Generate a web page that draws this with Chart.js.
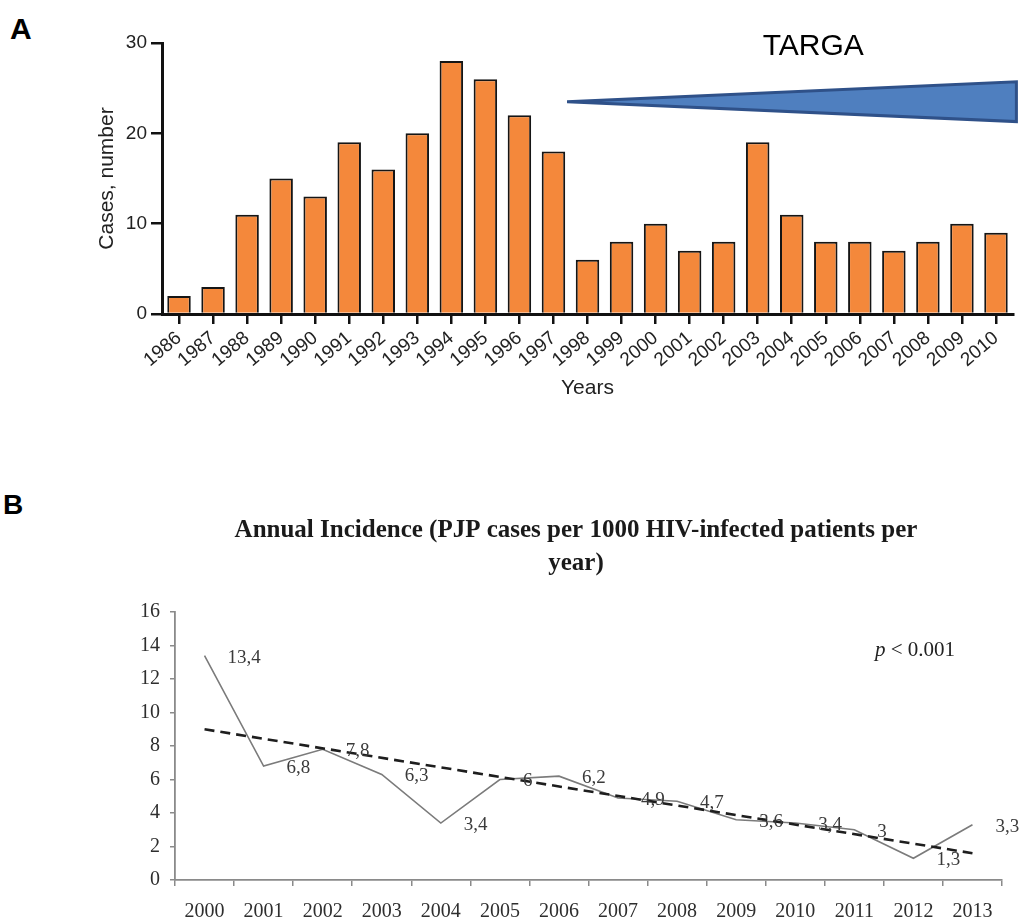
<!DOCTYPE html>
<html>
<head>
<meta charset="utf-8">
<title>PJP cases and incidence</title>
<script src="https://cdn.jsdelivr.net/npm/chart.js@4.4.1/dist/chart.umd.min.js"></script>
<style>
  html, body { margin: 0; padding: 0; background: #fff; }
  body { position: relative; width: 1019px; height: 920px; overflow: hidden; }
  .panel-letter { position: absolute; font-family: 'Liberation Sans', Arial, sans-serif; font-weight: bold; color: #000; line-height: 1; }
  #letterA { left: 10px; top: 14px; font-size: 30px; }
  #letterB { left: 3px; top: 491px; font-size: 28px; }
  #boxA { position: absolute; left: 0; top: 0; width: 1019px; height: 410px; }
  #boxB { position: absolute; left: 0; top: 480px; width: 1019px; height: 440px; }
  canvas { display: block; }
</style>
</head>
<body>
<div class="panel-letter" id="letterA">A</div>
<div class="panel-letter" id="letterB">B</div>
<div id="boxA"><canvas id="chartA" width="1019" height="410"></canvas></div>
<div id="boxB"><canvas id="chartB" width="1019" height="440"></canvas></div>

<script>
// ---- Panel A: PJP cases per year ----
const yearsA = ['1986', '1987', '1988', '1989', '1990', '1991', '1992', '1993', '1994', '1995',
                '1996', '1997', '1998', '1999', '2000', '2001', '2002', '2003', '2004', '2005',
                '2006', '2007', '2008', '2009', '2010'];
const casesA = [2, 3, 11, 15, 13, 19, 16, 20, 28, 26,
                22, 18, 6, 8, 10, 7, 8, 19, 11, 8,
                8, 7, 8, 10, 9];
const yTicksA = [0, 10, 20, 30];
const targaLabel = 'TARGA';

// ---- Panel B: annual incidence per 1000 HIV-infected patients ----
const yearsB = ['2000', '2001', '2002', '2003', '2004', '2005', '2006',
                '2007', '2008', '2009', '2010', '2011', '2012', '2013'];
const incidenceB = [13.4, 6.8, 7.8, 6.3, 3.4, 6, 6.2, 4.9, 4.7, 3.6, 3.4, 3, 1.3, 3.3];
const trendB = [9.0, 1.6];          // linear trend at first and last year
const yTicksB = [0, 2, 4, 6, 8, 10, 12, 14, 16];
const titleB = ['Annual Incidence (PJP cases per 1000 HIV-infected patients per', 'year)'];
const pValueText = ['p', ' < 0.001'];

const SANS = "'Liberation Sans', Arial, Helvetica, sans-serif";
const SERIF = "'Liberation Serif', 'Times New Roman', serif";

// Wedge marking the spread of combination antiretroviral therapy, placed in data units
const targaWedge = {
  id: 'targaWedge',
  afterDraw(chart, args, opts) {
    const { ctx, scales: { x, y } } = chart;
    const tipX = x.getPixelForValue(opts.tip[0]);
    const tipY = y.getPixelForValue(opts.tip[1]);
    const endX = x.getPixelForValue(opts.end);
    const topY = y.getPixelForValue(opts.top);
    const botY = y.getPixelForValue(opts.bottom);
    ctx.save();
    ctx.beginPath();
    ctx.moveTo(tipX, tipY);
    ctx.lineTo(endX, topY);
    ctx.lineTo(endX, botY);
    ctx.closePath();
    ctx.fillStyle = '#4f7fbf';
    ctx.fill();
    ctx.lineWidth = 3;
    ctx.lineJoin = 'miter';
    ctx.strokeStyle = '#2f5189';
    ctx.stroke();
    ctx.fillStyle = '#000';
    ctx.font = '30px ' + SANS;
    ctx.textAlign = 'center';
    ctx.textBaseline = 'middle';
    ctx.fillText(targaLabel, x.getPixelForValue(opts.label[0]), y.getPixelForValue(opts.label[1]));
    ctx.restore();
  }
};

new Chart(document.getElementById('chartA'), {
  type: 'bar',
  data: {
    labels: yearsA,
    datasets: [{
      data: casesA,
      backgroundColor: '#f4883b',
      borderColor: '#151515',
      borderWidth: 2,
      barPercentage: 0.69,
      categoryPercentage: 1.0
    }]
  },
  options: {
    responsive: false,
    devicePixelRatio: 1,
    animation: false,
    layout: { padding: { top: 43, left: 88, right: 6, bottom: 0 } },
    plugins: {
      legend: { display: false },
      tooltip: { enabled: false },
      targaWedge: { tip: [11.4, 23.5], end: 24.6, top: 25.7, bottom: 21.3, label: [18.63, 29.6] }
    },
    scales: {
      x: {
        z: 1,
        offset: true,
        grid: { offset: false, drawOnChartArea: false, drawTicks: true, tickLength: 10, color: '#111', lineWidth: 2.5 },
        border: { display: true, color: '#111', width: 3 },
        ticks: { autoSkip: false, minRotation: 40, maxRotation: 40, padding: 3, color: '#222', font: { family: SANS, size: 19 } },
        title: { display: true, text: 'Years', color: '#222', font: { family: SANS, size: 21 }, padding: { top: 0, bottom: 9 } },
        afterFit(scale) { scale.height = 96; }
      },
      y: {
        min: yTicksA[0],
        max: yTicksA[yTicksA.length - 1],
        afterBuildTicks(scale) { scale.ticks = yTicksA.map(v => ({ value: v })); },
        grid: { drawOnChartArea: false, drawTicks: true, tickLength: 11, color: '#111', lineWidth: 2.5 },
        border: { display: true, color: '#111', width: 3 },
        ticks: { padding: 4, color: '#222', font: { family: SANS, size: 19 } },
        title: { display: true, text: 'Cases, number', color: '#222', font: { family: SANS, size: 21 }, padding: { top: 7, bottom: 0 } },
        afterFit(scale) { scale.width = 74; }
      }
    }
  },
  plugins: [targaWedge]
});

// Value labels to the right of each point, plus the p-value note
const incidenceNotes = {
  id: 'incidenceNotes',
  afterDatasetsDraw(chart, args, opts) {
    const { ctx, scales: { x, y } } = chart;
    const meta = chart.getDatasetMeta(opts.datasetIndex);
    const values = chart.data.datasets[opts.datasetIndex].data;
    ctx.save();
    ctx.fillStyle = '#3a3a3a';
    ctx.font = '19px ' + SERIF;
    ctx.textAlign = 'left';
    ctx.textBaseline = 'middle';
    meta.data.forEach((pt, i) => {
      const txt = String(values[i]).replace('.', ',');
      ctx.fillText(txt, pt.x + 23, pt.y + 2);
    });
    // p-value
    const px = x.getPixelForValue(opts.pAt[0]);
    const py = y.getPixelForValue(opts.pAt[1]);
    ctx.fillStyle = '#222';
    ctx.font = 'italic 21px ' + SERIF;
    ctx.fillText(pValueText[0], px, py);
    const w = ctx.measureText(pValueText[0]).width;
    ctx.font = '21px ' + SERIF;
    ctx.fillText(pValueText[1], px + w, py);
    ctx.restore();
  }
};

new Chart(document.getElementById('chartB'), {
  type: 'line',
  data: {
    labels: yearsB,
    datasets: [
      {
        data: incidenceB,
        borderColor: '#7b7b7b',
        borderWidth: 1.6,
        pointRadius: 0,
        tension: 0,
        fill: false,
        order: 1
      },
      {
        data: yearsB.map((_, i) => i === 0 ? trendB[0] : (i === yearsB.length - 1 ? trendB[1] : null)),
        spanGaps: true,
        borderColor: '#1e1e1e',
        borderWidth: 2.6,
        borderDash: [10, 6],
        pointRadius: 0,
        tension: 0,
        fill: false,
        order: 0
      }
    ]
  },
  options: {
    responsive: false,
    devicePixelRatio: 1,
    animation: false,
    layout: { padding: { top: 0, left: 133, right: 0, bottom: 0 } },
    plugins: {
      legend: { display: false },
      tooltip: { enabled: false },
      title: {
        display: true,
        text: titleB,
        color: '#1a1a1a',
        font: { family: SERIF, size: 25, weight: 'bold', lineHeight: '33px' },
        padding: { top: 34, bottom: 32 }
      },
      incidenceNotes: { datasetIndex: 0, pAt: [11.35, 13.7] }
    },
    scales: {
      x: {
        offset: true,
        grid: { offset: true, drawOnChartArea: false, drawTicks: true, tickLength: 6, color: '#8a8a8a', lineWidth: 1.5 },
        border: { display: true, color: '#8a8a8a', width: 1.8 },
        ticks: { autoSkip: false, maxRotation: 0, padding: 14, color: '#2e2e2e', font: { family: SERIF, size: 20 } },
        afterFit(scale) { scale.height = 40; }
      },
      y: {
        min: yTicksB[0],
        max: yTicksB[yTicksB.length - 1],
        afterBuildTicks(scale) { scale.ticks = yTicksB.map(v => ({ value: v })); },
        grid: { drawOnChartArea: false, drawTicks: true, tickLength: 5, color: '#8a8a8a', lineWidth: 1.5 },
        border: { display: true, color: '#8a8a8a', width: 1.8 },
        ticks: { padding: 10, color: '#2e2e2e', font: { family: SERIF, size: 20 } },
        afterFit(scale) { scale.width = 42; }
      },
      // empty right-hand margin so the plot ends where the title block ends
      margin: {
        type: 'linear',
        position: 'right',
        display: true,
        grid: { display: false },
        border: { display: false },
        ticks: { display: false },
        afterFit(scale) { scale.width = 17; }
      }
    }
  },
  plugins: [incidenceNotes]
});
</script>
</body>
</html>
